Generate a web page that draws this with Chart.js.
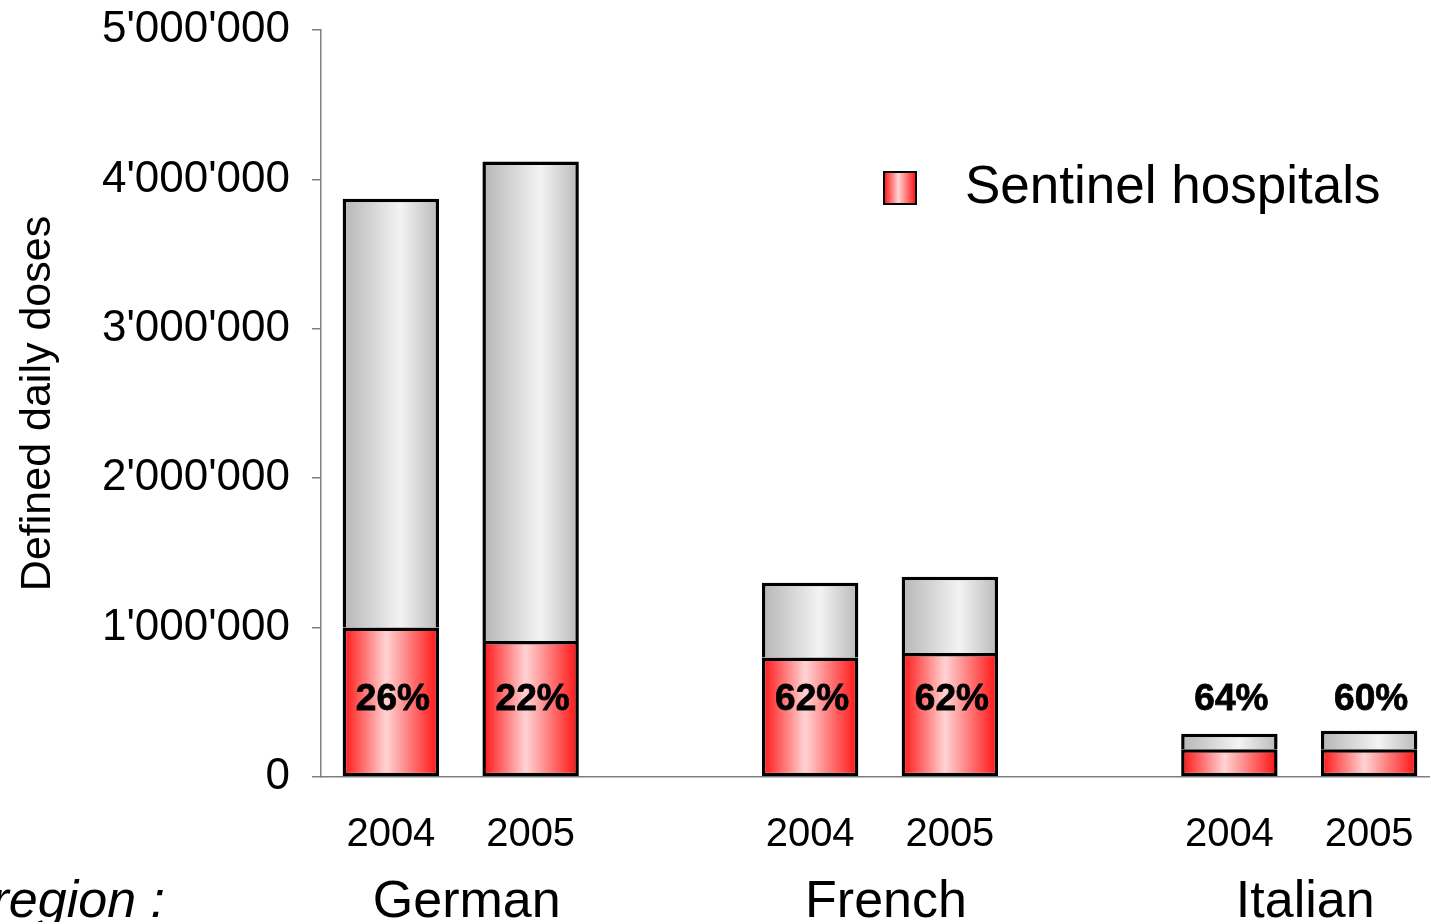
<!DOCTYPE html>
<html>
<head>
<meta charset="utf-8">
<script src="https://cdn.jsdelivr.net/npm/chart.js@4/dist/chart.umd.min.js"></script>
<style>
  html, body { margin: 0; padding: 0; background: #fff; overflow: hidden; }
  #wrap { width: 1440px; height: 922px; }
</style>
</head>
<body>
<div id="wrap"><canvas id="ddd" width="1440" height="922"></canvas></div>
<script>
// Doses journalières définies par région linguistique, 2004-2005.

const years = ['2004', '2005', '', '2004', '2005', '', '2004', '2005'];
const regions = ['German', 'French', 'Italian'];
const regionSlots = [[0, 1], [3, 4], [6, 7]];

// part des hôpitaux sentinelles (rouge) + reste (gris), empilés
const sentinel = [1000000, 910000, null, 800000, 830000, null, 185000, 186000];
const others = [2870000, 3210000, null, 500000, 510000, null, 105000, 124000];
const shareLabels = ['26%', '22%', '', '62%', '62%', '', '64%', '60%'];

const yTicksMax = 5000000;
const yStep = 1000000;

const FONT = "'Liberation Sans', Arial, Helvetica, sans-serif";
const BAR_PCT = 0.69;
const LABEL_LEVEL = 520000;   // hauteur commune des pourcentages

const redStops = [[0, '#ff1212'], [0.45, '#ffd3d3'], [1, '#ff1010']];
const greyStops = [[0, '#b5b5b5'], [0.6, '#f3f3f3'], [1, '#b9b9b9']];

function gradientFill(stops) {
  return (ctx) => {
    const chart = ctx.chart;
    if (!chart.chartArea || ctx.type !== 'data') return stops[1][1];
    const x = chart.scales.x;
    const slot = x.width / years.length;
    const cx = x.getPixelForValue(ctx.dataIndex);
    const half = slot * BAR_PCT / 2;
    const g = chart.ctx.createLinearGradient(cx - half, 0, cx + half, 0);
    stops.forEach(([o, c]) => g.addColorStop(o, c));
    return g;
  };
}

function fmtApos(v) {
  return String(v).replace(/\B(?=(\d{3})+(?!\d))/g, "'");
}

// textes hors axes : pourcentages, régions, légende
const extras = {
  id: 'extras',
  afterDatasetsDraw(chart) {
    const { ctx, scales: { x, y } } = chart;
    ctx.save();
    ctx.fillStyle = '#000';
    ctx.textAlign = 'center';
    ctx.textBaseline = 'middle';
    ctx.font = `bold 37px ${FONT}`;
    ctx.strokeStyle = '#000';
    ctx.lineWidth = 0.8;
    shareLabels.forEach((t, i) => {
      if (!t) return;
      const px = x.getPixelForValue(i) + 2, py = y.getPixelForValue(LABEL_LEVEL);
      ctx.fillText(t, px, py);
      ctx.strokeText(t, px, py);
    });

    ctx.textBaseline = 'alphabetic';
    ctx.font = `52px ${FONT}`;
    regions.forEach((r, k) => {
      const [a, b] = regionSlots[k];
      const cx = (x.getPixelForValue(a) + x.getPixelForValue(b)) / 2;
      ctx.fillText(r, cx + 6, 917);
    });
    ctx.textAlign = 'right';
    ctx.font = `italic 52px ${FONT}`;
    ctx.fillText('region :', 165, 917);

    // légende
    const lx = 884, ly = 172, s = 32;
    const g = ctx.createLinearGradient(lx, 0, lx + s, 0);
    redStops.forEach(([o, c]) => g.addColorStop(o, c));
    ctx.fillStyle = g;
    ctx.fillRect(lx, ly, s, s);
    ctx.lineWidth = 2;
    ctx.strokeRect(lx, ly, s, s);
    ctx.fillStyle = '#000';
    ctx.textAlign = 'left';
    ctx.textBaseline = 'middle';
    ctx.font = `53px ${FONT}`;
    ctx.fillText('Sentinel hospitals', 965, ly + s / 2);
    ctx.restore();
  },
};

new Chart(document.getElementById('ddd'), {
  type: 'bar',
  data: {
    labels: years,
    datasets: [
      {
        label: 'Sentinel hospitals',
        data: sentinel,
        backgroundColor: gradientFill(redStops),
        borderColor: '#000',
        borderWidth: 3.5,
        borderSkipped: false,
      },
      {
        label: 'Other',
        data: others,
        backgroundColor: gradientFill(greyStops),
        borderColor: '#000',
        borderWidth: 3.5,
        borderSkipped: 'bottom',
      },
    ],
  },
  options: {
    responsive: false,
    animation: false,
    layout: { padding: { top: 30, right: 1, left: 0, bottom: 0 } },
    barPercentage: BAR_PCT,
    categoryPercentage: 1,
    plugins: {
      legend: { display: false },
      tooltip: { enabled: false },
    },
    scales: {
      x: {
        stacked: true,
        grid: { display: false, drawTicks: false },
        border: { display: true, color: '#7f7f7f', width: 1.5 },
        ticks: { color: '#000', font: { family: FONT, size: 40 }, padding: 34, maxRotation: 0, autoSkip: false },
        afterFit: (s) => { s.height = 145; s.paddingLeft = 0; s.paddingRight = 0; },
      },
      y: {
        stacked: true,
        min: 0,
        max: yTicksMax,
        grid: { drawOnChartArea: false, drawTicks: true, tickLength: 9, color: '#7f7f7f', lineWidth: 1.5 },
        border: { display: true, color: '#7f7f7f', width: 1.5 },
        ticks: {
          stepSize: yStep,
          color: '#000',
          padding: 22,
          font: { family: FONT, size: 44 },
          callback: (v) => fmtApos(v),
        },
        title: {
          display: true,
          text: 'Defined daily doses',
          color: '#000',
          font: { family: FONT, size: 43 },
          padding: { top: 12, bottom: 0 },
        },
        afterFit: (s) => { s.width = 321; s.paddingTop = 0; s.paddingBottom = 0; },
      },
    },
  },
  plugins: [extras],
});
</script>
</body>
</html>
